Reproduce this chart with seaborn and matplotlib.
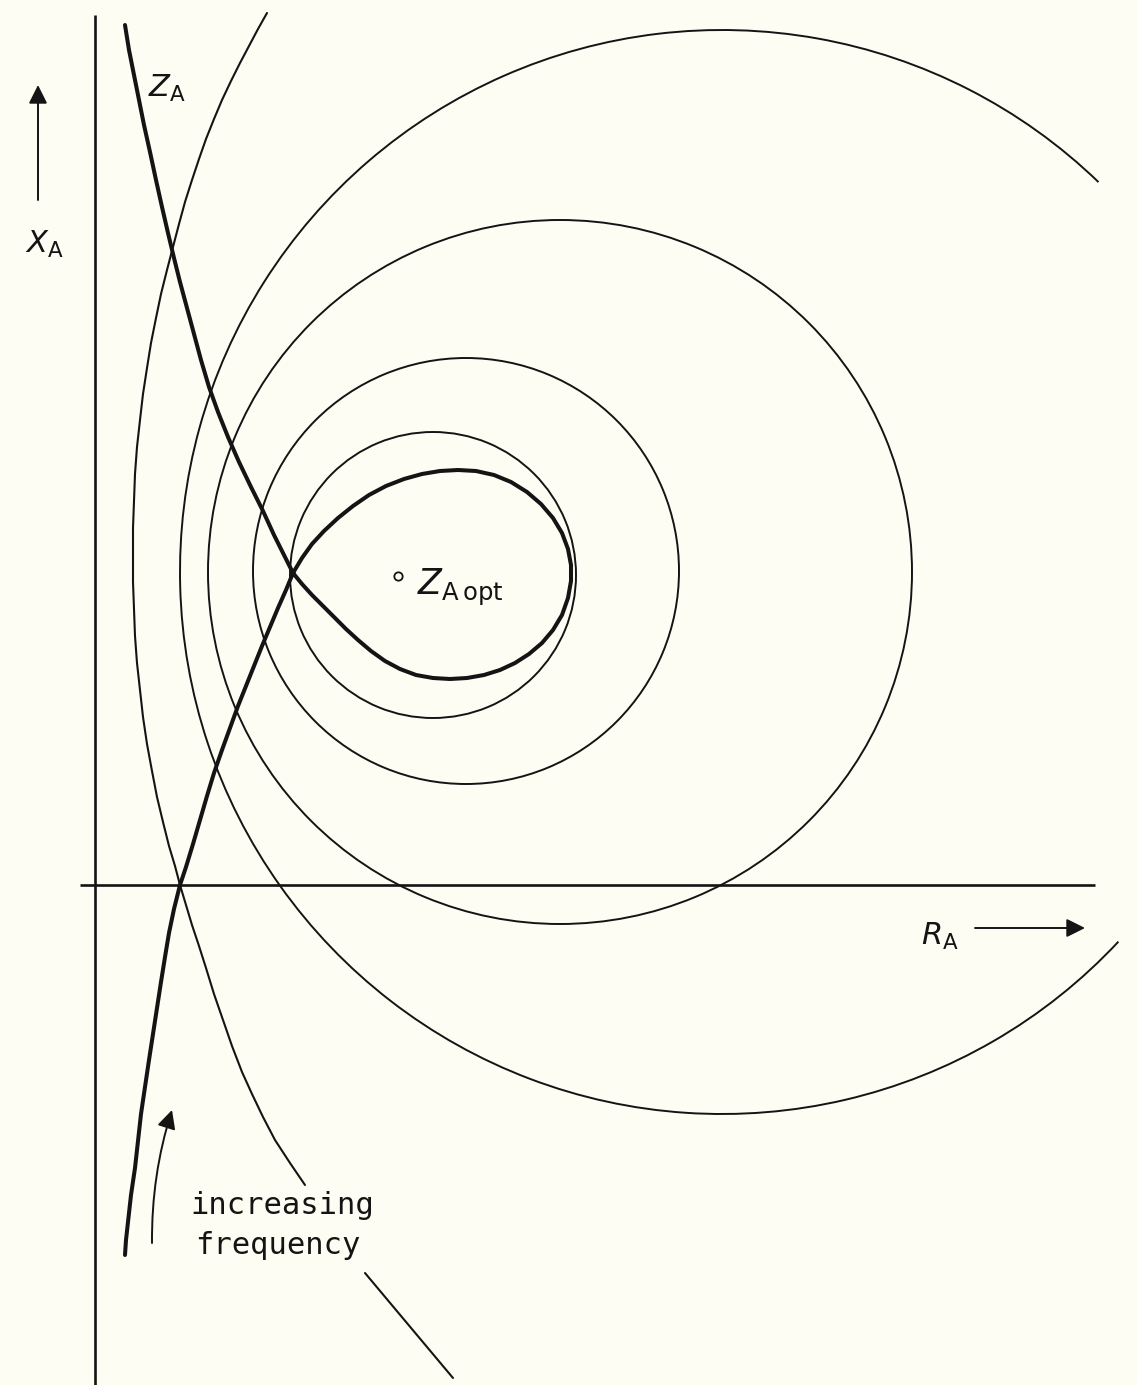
import numpy as np
import pandas as pd
import matplotlib
matplotlib.use("Agg")
import matplotlib.pyplot as plt
from matplotlib.patches import Arc
import seaborn as sns

# %%
# Data (R_A, X_A plane, origin at the axes crossing, drawing units)
za_upper_r = [30, 34, 39, 44, 49, 55, 61, 67, 73, 79, 85, 92, 99, 106, 114, 123,
              133, 144, 156, 168, 179, 189, 198]
za_upper_x = [860, 835, 810, 785, 760, 733, 705, 678, 652, 627, 603, 577, 551, 525,
              498, 473, 448, 423, 398, 374, 350, 330, 312]

loop_r = [207, 217, 228, 239, 251, 263, 276, 290, 305, 321, 338, 355, 372, 389, 405,
          420, 434, 447, 458, 467, 473, 476, 476, 473, 467, 458, 446, 432, 416, 399,
          381, 363, 345, 327, 309, 291, 274, 258, 243, 229, 217, 207, 198]
loop_x = [301, 290, 279, 268, 256, 245, 234, 224, 216, 210, 207, 206, 207, 210, 215,
          222, 231, 242, 255, 270, 287, 304, 320, 336, 352, 367, 381, 393, 403, 410,
          414, 415, 414, 411, 406, 399, 390, 379, 367, 354, 341, 327, 312]

za_lower_r = [191, 183, 175, 167, 159, 151, 143, 135, 127, 119, 112, 105, 98, 91, 85,
              79, 74, 70, 66, 62, 58, 54, 50, 46, 43, 40, 36, 33, 31, 30]
za_lower_x = [295, 277, 258, 239, 219, 199, 179, 157, 135, 112, 89, 65, 41, 18, 0,
              -24, -48, -72, -97, -123, -149, -175, -202, -229, -256, -283, -310, -337,
              -355, -370]

thin_r = [172, 163, 154, 145, 136, 127, 119, 111, 104, 97, 90, 84, 78, 72, 66, 61,
          56, 52, 48, 45, 42, 40, 39, 38, 38, 38, 39, 40, 42, 45, 48, 52, 57, 62, 68,
          74, 80, 85, 91, 97, 104, 111, 119, 128, 137, 147, 157, 168, 180, 195, 210]
thin_x = [872, 856, 839, 822, 804, 785, 766, 746, 726, 705, 683, 661, 638, 615, 591,
          567, 542, 517, 491, 465, 438, 411, 384, 357, 330, 303, 276, 249, 222, 195,
          168, 141, 114, 88, 63, 39, 19, 0, -20, -40, -61, -83, -109, -135, -161,
          -187, -209, -232, -255, -278, -300]
thin_tail_r = [270, 358]
thin_tail_x = [-388, -493]

# noise circles: centre R, centre X, radius, arc start/end (deg)
circ_r = [338, 371, 465, 627]
circ_x = [310, 314, 313, 313]
circ_rad = [143, 213, 352, 542]
circ_t1 = [0, 0, 0, 46]
circ_t2 = [360, 360, 360, 317]

zopt = (303, 309)

ink = "#141414"
paper = "#fdfdf4"

# %%
sns.set_style("white")
plt.rcParams["mathtext.fontset"] = "dejavusans"

fig = plt.figure(figsize=(11.37, 13.85), dpi=100, facecolor=paper)
ax = fig.add_axes([0, 0, 1, 1])
ax.set_facecolor(paper)
ax.set_xlim(-95, 1042)
ax.set_ylim(-500, 885)
ax.set_aspect("equal")
ax.axis("off")

# axes lines
ax.plot([0, 0], [-500, 870], color=ink, lw=1.9, solid_capstyle="butt")
ax.plot([-15, 1000], [0, 0], color=ink, lw=1.9, solid_capstyle="butt")

# circles
for cr, cx, rad, t1, t2 in zip(circ_r, circ_x, circ_rad, circ_t1, circ_t2):
    ax.add_patch(Arc((cr, cx), 2 * rad, 2 * rad, theta1=t1, theta2=t2,
                     color=ink, lw=1.4))

# thin curve
line_kw = dict(sort=False, estimator=None, color=ink, solid_joinstyle="round", ax=ax)
sns.lineplot(x=thin_r, y=thin_x, lw=1.5, **line_kw)
sns.lineplot(x=thin_tail_r, y=thin_tail_x, lw=1.5, **line_kw)

# Z_A locus with loop
za = pd.DataFrame({
    "R": za_upper_r + loop_r + za_lower_r,
    "X": za_upper_x + loop_x + za_lower_x,
})
sns.lineplot(data=za, x="R", y="X", lw=2.9, **line_kw)

# Z_A opt point
ax.plot(*zopt, marker="o", ms=6, mfc=paper, mec=ink, mew=1.3)

# labels
fs = 22
ax.text(322, 290, r"$Z_{\mathrm{A\,opt}}$", fontsize=25, color=ink, va="baseline")
ax.text(53, 788, r"$Z_{\mathrm{A}}$", fontsize=fs, color=ink, va="baseline")
ax.text(-70, 632, r"$X_{\mathrm{A}}$", fontsize=fs, color=ink, va="baseline")
ax.text(826, -60, r"$R_{\mathrm{A}}$", fontsize=fs, color=ink, va="baseline")
ax.text(95, -320, "increasing", fontsize=22, family="DejaVu Sans Mono", color=ink, va="center")
ax.text(100, -360, "frequency", fontsize=22, family="DejaVu Sans Mono", color=ink, va="center")

# arrows
arr = dict(arrowstyle="-|>", color=ink, lw=1.4, mutation_scale=28, shrinkA=0, shrinkB=0)
ax.annotate("", xy=(-57, 800), xytext=(-57, 685), arrowprops=arr)
ax.annotate("", xy=(990, -43), xytext=(880, -43), arrowprops=arr)
ax.annotate("", xy=(77, -225), xytext=(57, -358),
            arrowprops=dict(arr, connectionstyle="arc3,rad=-0.08"))

fig.savefig("out.png", dpi=100, facecolor=paper)
